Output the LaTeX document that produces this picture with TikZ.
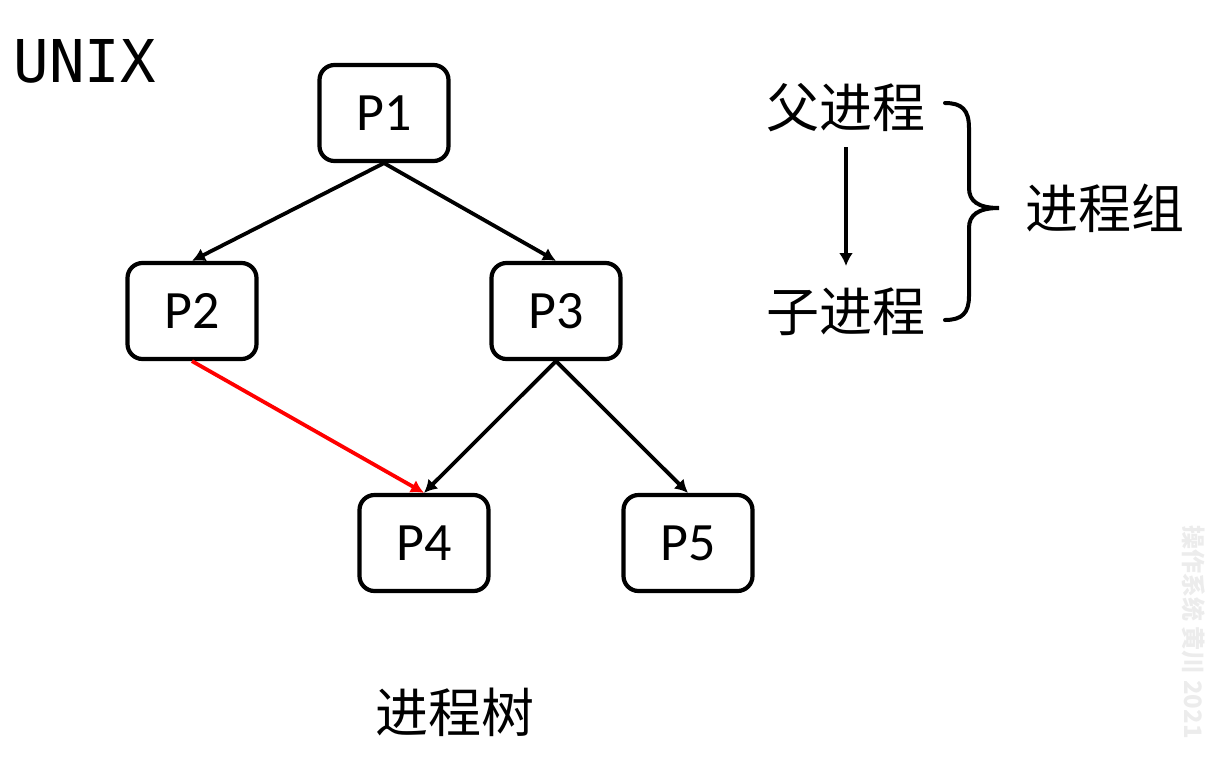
\documentclass[tikz,border=0pt]{standalone}
\usepackage{fontspec}
\setmainfont{Carlito}
\newfontfamily\cjk{Noto Sans CJK SC}
\newfontfamily\monofont{DejaVu Sans Mono}
\usetikzlibrary{arrows.meta}

\tikzset{
  procbox/.style={draw, line width=4.2pt, rounded corners=15pt, minimum width=129pt, minimum height=96pt, font=\fontsize{54}{58}\selectfont},
  edge/.style={line width=3.8pt, -{Latex[length=13pt,width=14pt]}},
  cjktext/.style={font=\cjk\fontsize{53}{56}\selectfont}
}

\begin{document}
\begin{tikzpicture}[x=1pt,y=-1pt]
    % Canvas
    \useasboundingbox (0,0) rectangle (1207,761);

    % Title
    \node[font=\monofont\fontsize{59}{62}\selectfont] (unix) at (85,61) {UNIX};

    % Process tree nodes
    \node[procbox] (p1) at (384,113) {P1};
    \node[procbox] (p2) at (192,311) {P2};
    \node[procbox] (p3) at (556,311) {P3};
    \node[procbox] (p4) at (424,543) {P4};
    \node[procbox] (p5) at (688,543) {P5};

    % Parent-child edges
    \draw[edge] (p1.south) -- (p2.north);
    \draw[edge] (p1.south) -- (p3.north);
    \draw[edge] (p3.south) -- (p4.north);
    \draw[edge] (p3.south) -- (p5.north);
    \draw[edge, red] (p2.south) -- (p4.north);

    % Tree caption
    \node[cjktext] (tree) at (455,712) {进程树};

    % Process group legend
    \node[cjktext] (parent) at (846,108) {父进程};
    \node[cjktext] (child) at (846,312) {子进程};
    \coordinate (ptop) at (846,147);
    \coordinate (cbot) at (846,266);
    \draw[edge, line width=3.2pt] (ptop) -- (cbot);

    % Brace
    \draw[line width=4pt, line cap=round]
      (945,103) .. controls (962,103) and (969,110) .. (969,128) -- (969,188)
      .. controls (969,201) and (978,208) .. (999,208)
      .. controls (978,208) and (969,215) .. (969,228) -- (969,296)
      .. controls (969,313) and (962,320) .. (945,320);
    \node[cjktext, anchor=west] (group) at (1022,208) {进程组};

    % Watermark
    \node[font=\cjk\fontsize{24}{26}\selectfont\bfseries, text=gray!15, rotate=-90] (mark) at (1194,632) {操作系统 黄川 2021};
\end{tikzpicture}
\end{document}
